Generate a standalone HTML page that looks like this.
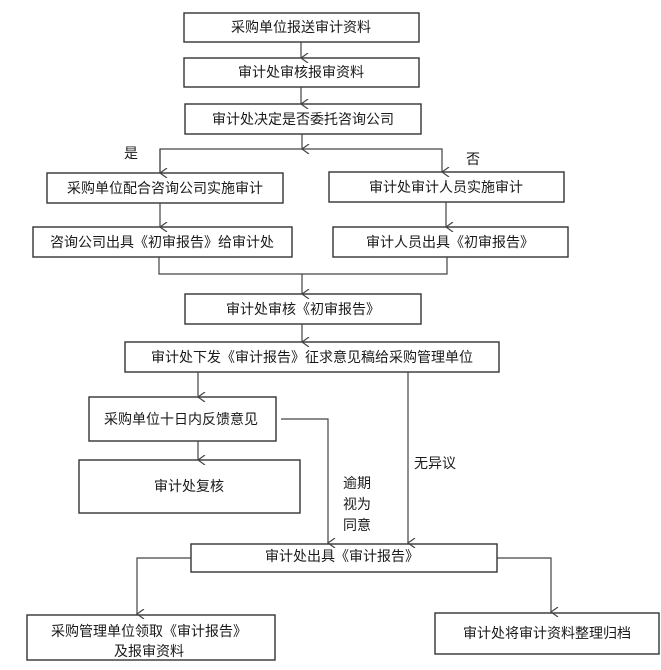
<!DOCTYPE html>
<html><head><meta charset="utf-8"><style>
html,body{margin:0;padding:0;background:#fff;}
svg{display:block;}
text{font-family:"Liberation Sans","Noto Sans CJK SC",sans-serif;font-size:14px;fill:#1a1a1a;}
</style></head><body>
<svg width="661" height="670" viewBox="0 0 661 670" xmlns="http://www.w3.org/2000/svg">
<defs>
<marker id="a" viewBox="0 0 10 10" refX="5" refY="9" markerWidth="10" markerHeight="10" orient="auto-start-reverse" markerUnits="userSpaceOnUse">
<path d="M0,2 L5,9 L10,2" fill="none" stroke="#444" stroke-width="1.2"/>
</marker>
</defs>
<g fill="#fff" stroke="#333" stroke-width="1.4">
<rect x="184" y="13" width="235" height="29"/>
<rect x="184" y="58" width="235" height="29"/>
<rect x="185" y="104" width="236" height="30"/>
<rect x="47" y="173" width="236" height="30"/>
<rect x="329" y="172" width="235" height="30"/>
<rect x="33" y="227" width="259" height="30"/>
<rect x="333" y="227" width="235" height="30"/>
<rect x="185" y="294" width="236" height="30"/>
<rect x="125" y="342" width="374" height="30"/>
<rect x="89" y="397" width="187" height="44"/>
<rect x="79" y="460" width="221" height="53"/>
<rect x="191" y="544" width="306" height="28"/>
<rect x="27" y="615" width="248" height="45"/>
<rect x="435" y="613" width="224" height="41"/>
</g>
<g fill="none" stroke="#444" stroke-width="1.2">
<line x1="301" y1="42" x2="301" y2="58" marker-end="url(#a)"/>
<line x1="301" y1="87" x2="301" y2="104" marker-end="url(#a)"/>
<line x1="302" y1="134" x2="302" y2="149" marker-end="url(#a)"/>
<polyline points="160,173 160,149 442,149 442,172" marker-end="url(#a)"/>
<line x1="160" y1="149" x2="160" y2="173" marker-end="url(#a)"/>
<line x1="160" y1="203" x2="160" y2="227" marker-end="url(#a)"/>
<line x1="446" y1="202" x2="446" y2="227" marker-end="url(#a)"/>
<polyline points="159,257 159,274 447,274 447,257"/>
<line x1="302" y1="274" x2="302" y2="294" marker-end="url(#a)"/>
<line x1="302" y1="324" x2="302" y2="342" marker-end="url(#a)"/>
<line x1="198" y1="372" x2="198" y2="397" marker-end="url(#a)"/>
<line x1="198" y1="441" x2="198" y2="460" marker-end="url(#a)"/>
<polyline points="281,419 328,419 328,543" marker-end="url(#a)"/>
<line x1="408" y1="372" x2="408" y2="543" marker-end="url(#a)"/>
<polyline points="191,558 137,558 137,614" marker-end="url(#a)"/>
<polyline points="497,558 551,558 551,612" marker-end="url(#a)"/>
</g>
<g text-anchor="middle">
<text x="301" y="32">采购单位报送审计资料</text>
<text x="301" y="77">审计处审核报审资料</text>
<text x="303" y="124">审计处决定是否委托咨询公司</text>
<text x="165" y="193">采购单位配合咨询公司实施审计</text>
<text x="446" y="192">审计处审计人员实施审计</text>
<text x="162" y="247">咨询公司出具《初审报告》给审计处</text>
<text x="450" y="247">审计人员出具《初审报告》</text>
<text x="303" y="314">审计处审核《初审报告》</text>
<text x="312" y="362">审计处下发《审计报告》征求意见稿给采购管理单位</text>
<text x="181" y="424">采购单位十日内反馈意见</text>
<text x="189" y="491">审计处复核</text>
<text x="342" y="561">审计处出具《审计报告》</text>
<text x="149" y="636">采购管理单位领取《审计报告》</text>
<text x="149" y="656">及报审资料</text>
<text x="547" y="638">审计处将审计资料整理归档</text>
</g>
<text x="124" y="158">是</text>
<text x="466" y="164">否</text>
<text x="414" y="468">无异议</text>
<text x="343" y="488">逾期</text>
<text x="343" y="509">视为</text>
<text x="343" y="530">同意</text>
</svg>
</body></html>
